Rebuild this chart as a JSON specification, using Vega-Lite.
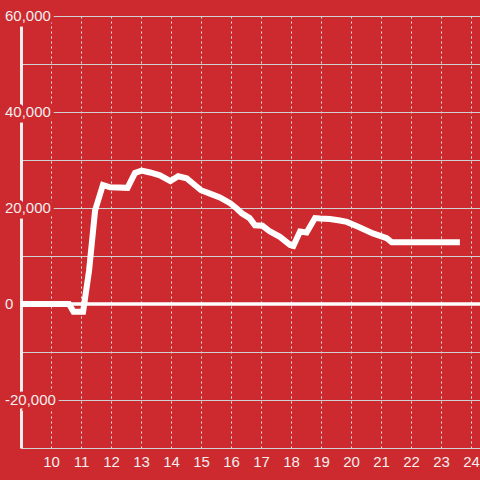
{
  "$schema": "https://vega.github.io/schema/vega-lite/v6.json",
  "width": 459,
  "height": 432,
  "autosize": {"type": "none"},
  "padding": {"left": 21, "top": 16, "right": 0, "bottom": 32},
  "background": "#cc2a2f",
  "config": {
    "view": {"stroke": null},
    "font": "Liberation Sans",
    "axisY": {
      "title": null,
      "labels": false,
      "ticks": false,
      "domain": true,
      "domainColor": "#eeeeee",
      "domainWidth": 3,
      "grid": true,
      "gridColor": "#d0d0d0",
      "gridWidth": 1,
      "gridOpacity": 1
    }
  },
  "resolve": {"axis": {"x": "independent"}, "scale": {"x": "shared"}},
  "datasets": {
    "series": [
      {"hour": 9.0, "value": 0},
      {"hour": 10.6, "value": 0},
      {"hour": 10.75, "value": -1600},
      {"hour": 11.07, "value": -1600},
      {"hour": 11.27, "value": 7000},
      {"hour": 11.47, "value": 19500},
      {"hour": 11.73, "value": 24800},
      {"hour": 11.97, "value": 24300},
      {"hour": 12.55, "value": 24200},
      {"hour": 12.8, "value": 27300},
      {"hour": 13.02, "value": 27800},
      {"hour": 13.3, "value": 27400},
      {"hour": 13.63, "value": 26800},
      {"hour": 13.98, "value": 25600},
      {"hour": 14.24, "value": 26600},
      {"hour": 14.52, "value": 26200},
      {"hour": 15.0, "value": 23700},
      {"hour": 15.3, "value": 23000},
      {"hour": 15.63, "value": 22200},
      {"hour": 15.97, "value": 21000},
      {"hour": 16.19, "value": 19900},
      {"hour": 16.36, "value": 18900},
      {"hour": 16.62, "value": 17900},
      {"hour": 16.8, "value": 16400},
      {"hour": 17.05, "value": 16300},
      {"hour": 17.3, "value": 15100},
      {"hour": 17.63, "value": 14000},
      {"hour": 17.97, "value": 12300},
      {"hour": 18.08, "value": 12100},
      {"hour": 18.3, "value": 15100},
      {"hour": 18.52, "value": 14900},
      {"hour": 18.8, "value": 17900},
      {"hour": 18.97, "value": 17800},
      {"hour": 19.3, "value": 17700},
      {"hour": 19.63, "value": 17400},
      {"hour": 19.86, "value": 17100},
      {"hour": 20.24, "value": 16100},
      {"hour": 20.73, "value": 14700},
      {"hour": 21.19, "value": 13700},
      {"hour": 21.36, "value": 12850},
      {"hour": 23.63, "value": 12850}
    ],
    "ylabels": [
      {"v": -20000, "label": "-20,000"},
      {"v": 0, "label": "0"},
      {"v": 20000, "label": "20,000"},
      {"v": 40000, "label": "40,000"},
      {"v": 60000, "label": "60,000"}
    ]
  },
  "layer": [
    {
      "data": {"name": "ylabels"},
      "mark": {"type": "rule", "color": "#ffffff", "strokeWidth": 3.5},
      "transform": [{"filter": "datum.v == 0"}],
      "encoding": {
        "y": {
          "field": "v",
          "type": "quantitative",
          "scale": {"domain": [-30000, 60000], "nice": false, "zero": false},
          "axis": {"values": [-30000, -20000, -10000, 0, 10000, 20000, 30000, 40000, 50000, 60000]}
        }
      }
    },
    {
      "data": {"name": "series"},
      "mark": {"type": "line", "color": "#ffffff", "strokeWidth": 6, "clip": false},
      "encoding": {
        "x": {
          "field": "hour",
          "type": "quantitative",
          "scale": {"domain": [9, 24.3], "nice": false, "zero": false},
          "axis": {
            "values": [10, 11, 12, 13, 14, 15, 16, 17, 18, 19, 20, 21, 22, 23, 24],
            "tickCount": 15,
            "title": null,
            "domain": false,
            "ticks": false,
            "labelPadding": 6,
            "labelFontSize": 15,
            "labelColor": "#f3eded",
            "labelFont": "Liberation Sans",
            "labelOverlap": false,
            "labelBound": false,
            "labelFlush": false,
            "grid": true,
            "gridColor": "#e6e6e6",
            "gridDash": [2, 3],
            "gridWidth": 1,
            "gridOpacity": 1
          }
        },
        "y": {"field": "value", "type": "quantitative"}
      }
    },
    {
      "data": {"name": "ylabels"},
      "mark": {
        "type": "text",
        "align": "left",
        "baseline": "middle",
        "dx": -16,
        "fontSize": 15,
        "fill": "#cc2a2f",
        "stroke": "#cc2a2f",
        "strokeWidth": 7
      },
      "encoding": {
        "x": {"datum": 9, "type": "quantitative", "axis": null},
        "y": {"field": "v", "type": "quantitative"},
        "text": {"field": "label", "type": "nominal"}
      }
    },
    {
      "data": {"name": "ylabels"},
      "mark": {
        "type": "text",
        "align": "left",
        "baseline": "middle",
        "dx": -16,
        "fontSize": 15,
        "fill": "#f3eded"
      },
      "encoding": {
        "x": {"datum": 9, "type": "quantitative", "axis": null},
        "y": {"field": "v", "type": "quantitative"},
        "text": {"field": "label", "type": "nominal"}
      }
    }
  ]
}
